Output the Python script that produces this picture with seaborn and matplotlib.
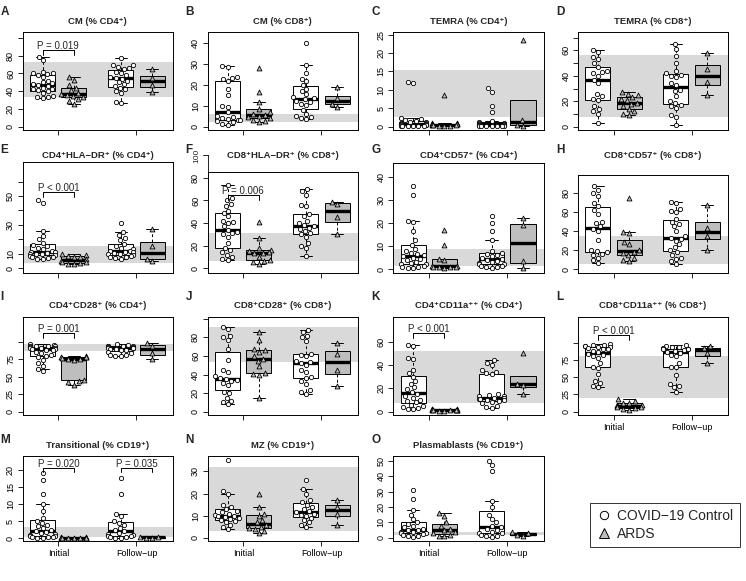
import warnings
import pandas as pd
import matplotlib.pyplot as plt
from matplotlib.lines import Line2D
import seaborn as sns

warnings.filterwarnings("ignore")

# ---- data ----
# ci = control initial, ai = ARDS initial, cf = control follow-up, af = ARDS follow-up
a_ci = [79, 75, 62, 61, 60, 59, 58, 56, 52, 50, 49, 48, 47, 46, 44, 43, 42, 41, 40, 38, 35, 34, 33, 32]
a_ai = [56, 53, 47, 44, 41, 38, 37, 36, 35, 33, 31, 29, 26]
a_cf = [77, 70, 69, 67, 66, 65, 62, 60, 58, 56, 55, 54, 52, 50, 48, 46, 44, 42, 40, 38, 28, 27]
a_af = [65, 55, 47, 39]
a_band = (33, 73)

b_ci = [29, 28.5, 24, 23.5, 23, 22, 18, 15, 10, 9.5, 7, 5, 4.5, 4, 3.5, 3, 3, 2.5, 2, 1.5, 1]
b_ai = [28, 16.5, 12, 8.5, 7, 6, 5.5, 5, 4.5, 4, 3, 2.5, 2]
b_cf = [40, 29.5, 25.5, 23, 22, 20, 18, 17, 15.5, 14, 13.5, 13, 12.5, 12, 11, 10.5, 8, 6, 5, 4.5, 4, 3.5]
b_af = [19, 13.5, 11, 9.5]
b_band = (2, 6)

c_ci = [12.2, 11.8, 2.3, 2, 1.8, 1.5, 1.3, 1.2, 1, 0.9, 0.8, 0.7, 0.6, 0.5, 0.5, 0.4, 0.3, 0.3, 0.2, 0.2, 0.1, 0.1]
c_ai = [8.5, 1, 0.9, 0.8, 0.7, 0.6, 0.5, 0.4, 0.4, 0.3, 0.3, 0.2]
c_cf = [10.5, 9.5, 5.5, 4, 1.5, 1.2, 1, 0.9, 0.8, 0.7, 0.6, 0.5, 0.5, 0.4, 0.3, 0.3, 0.2, 0.2, 0.1, 0.1, 0.1]
c_af = [23.5, 1.8, 0.5, 0.3]
c_band = (2.7, 15.3)

d_ci = [60, 59, 55, 53, 50, 47, 44, 43, 42, 40, 37, 34, 26, 24, 22, 21, 16, 14, 12, 10, 3]
d_ai = [27, 26, 25, 23, 22, 21, 19, 18, 16, 14, 12, 10, 9.5]
d_cf = [65, 61, 56, 50, 44, 42, 41, 40, 39, 34, 33, 29, 28, 24, 20, 19, 17, 16, 15, 9, 8, 1.5]
d_af = [58, 45, 35, 25]
d_band = (8, 56.5)

e_ci = [47, 45, 26, 22, 20, 17.5, 16, 15, 14, 13, 12, 11, 11, 10.5, 10, 10, 9.5, 9, 8.5, 8, 7.5, 7, 6.5, 6]
e_ai = [9.5, 9, 8.5, 8, 7.5, 6, 5, 4.5, 4, 3.5, 3, 2.5]
e_cf = [31, 25, 23, 21, 19.5, 17, 15, 14, 13, 12, 12, 11.5, 11, 10.5, 10, 9.5, 9, 8.5, 8, 7.5, 7, 6.5]
e_af = [27, 15, 6.5, 5]
e_band = (3.5, 15.5)

f_ci = [74, 62, 60, 57, 55, 51, 49, 46, 42, 41, 40, 37, 34, 32, 31, 30, 28, 22, 18, 16, 14, 12, 10, 8, 7]
f_ai = [41, 26.5, 18, 16, 15, 14, 13.5, 13, 10, 7, 6, 5, 4]
f_cf = [70, 68, 65, 56, 55, 48, 46, 42, 40, 38, 37, 36, 35, 33, 31, 30, 28, 22, 20, 18, 11]
f_af = [59, 57, 45, 30]
f_band = (6, 31)

g_ci = [36, 32, 21, 20.5, 16.5, 12.5, 10.5, 8.5, 8, 7, 6.5, 6, 5.5, 5, 4.5, 4, 3, 2.5, 2, 2, 1.5, 1, 1, 0.5, 0.5]
g_ai = [17, 10.5, 4.5, 4, 1.5, 1.2, 1, 1, 0.8, 0.8, 0.6]
g_cf = [23, 20, 16.5, 12.5, 8, 7, 6.5, 6, 5.5, 5, 4.5, 4, 3.5, 3, 2.5, 2, 2, 1.5, 1.5, 1, 1, 0.5]
g_af = [22, 19, 3.5, 0.5]
g_band = (1.2, 8.5)

h_ci = [87, 83, 80, 77, 70, 66, 62, 58, 50, 48, 45, 42, 40, 31, 20, 19, 18, 16, 15, 12, 9, 6]
h_ai = [75, 39, 38, 28, 26, 20, 18, 17, 15, 12, 9, 8]
h_cf = [71, 69, 63, 61, 60, 53, 50, 47, 45, 40, 35, 33, 32, 30, 26, 23, 20, 18, 15, 12, 11, 8, 5]
h_af = [67, 43, 35, 20]
h_band = (5.5, 34.5)

i_ci = [97, 96, 95, 95, 94, 94, 93, 92, 92, 91, 90, 90, 89, 88, 86, 84, 82, 80, 78, 74, 70, 66, 61, 58]
i_ai = [80, 79, 78, 78, 77, 76, 75, 74, 46, 44, 42, 39]
i_cf = [97, 96, 95, 95, 94, 94, 93, 93, 92, 92, 91, 91, 90, 90, 89, 88, 86, 84, 82, 81, 80, 80]
i_af = [98, 95, 84, 75]
i_band = (86.5, 97)

j_ci = [91, 89, 82, 80, 77, 67, 56, 45, 43, 38, 36, 35, 34, 33, 31, 29, 21, 20, 15, 12, 10, 8]
j_ai = [86, 77, 68, 66, 64, 60, 57, 55, 49, 42, 41, 40, 15]
j_cf = [88, 86, 82, 80, 76, 62, 61, 60, 55, 53, 52, 50, 45, 43, 37, 36, 33, 30, 23, 21, 19]
j_af = [74, 62, 45, 28]
j_band = (53, 91)

k_ci = [57, 56, 46, 45, 36, 33, 30, 26, 24, 21, 19, 17, 15, 13, 12, 10, 9, 8, 6, 5, 4, 3, 2.5, 2]
k_ai = [2.5, 2, 2, 1.8, 1.5, 1.5, 1.2, 1, 1, 0.8, 0.5]
k_cf = [44, 42, 40, 36, 34, 33, 32, 15, 14, 13, 13, 12, 12, 11, 11, 10, 10, 9, 8, 7, 5, 4, 3.5]
k_af = [50, 24, 23, 15]
k_band = (7, 52)

l_ci = [98, 97, 96, 95, 95, 94, 93, 92, 91, 90, 88, 86, 84, 82, 80, 78, 70, 65, 63, 55, 45, 42, 37, 35]
l_ai = [18, 15, 13, 12, 10, 9, 8, 7, 6, 5, 4, 3]
l_cf = [96, 95, 94, 93, 92, 91, 90, 90, 89, 88, 87, 85, 82, 80, 70, 65, 64, 53, 40, 37, 35, 28]
l_af = [95, 92, 85, 70]
l_band = (20, 80)

m_ci = [19, 17, 13, 10, 8, 6, 5, 4.5, 4, 3.5, 3, 2.5, 2, 1.8, 1.5, 1.2, 1, 0.8, 0.6, 0.5, 0.4, 0.3, 0.2, 0.1]
m_ai = [0.3, 0.25, 0.2, 0.2, 0.15, 0.1, 0.1, 0.05, 0.05, 0]
m_cf = [17.5, 13, 7, 6.5, 5, 4.5, 4, 3, 2.5, 2, 1.5, 1.2, 1, 0.8, 0.6, 0.4, 0.3, 0.2, 0.1]
m_af = [0.4, 0.3, 0.2, 0.1]
m_band = (0.5, 3.2)

n_ci = [35, 21, 20, 15, 14, 13, 12, 11.5, 11, 10.5, 10, 10, 9.5, 9, 8.5, 8, 7.5, 7, 6, 5, 4]
n_ai = [20, 14, 11, 10, 8, 7, 6, 5, 4.5, 4, 3, 2]
n_cf = [26, 22, 20, 17, 16, 15, 14, 13, 12, 11.5, 11, 10.5, 10, 9, 8, 7, 6, 5]
n_af = [17, 14, 11, 6]
n_band = (3, 32)

o_ci = [31, 25, 18, 15, 12, 10, 9, 8, 7, 6, 5, 5, 4, 4, 3.5, 3, 2.5, 2, 1.5, 1, 0.5]
o_ai = [16, 14, 10, 8, 6, 5, 4, 3, 2, 1.5, 1]
o_cf = [50, 47, 43, 24, 20, 15, 12, 10, 8, 7, 6, 5, 4, 3.5, 3, 2, 1.5, 1, 0.5]
o_af = [4, 3, 2, 1]
o_band = (2, 4)

x_labels = ["Initial", "Follow\u2212up"]
legend_labels = ["COVID\u221219 Control", "ARDS"]

# ---- layout (pixels) ----
W, H = 746, 581
COLS = [(22.7, 173), (207.7, 358), (393, 544), (578, 728)]
ROW_BOTTOM = [130, 273, 415, 541]
TITLE_Y = [22, 155, 306, 446]
LETTER_Y = [12, 150, 297, 440]

panels = [
    dict(letter="A", title="CM (% CD4\u207a)", data=(a_ci, a_ai, a_cf, a_af), band=a_band, top=32,
         ylim=(-3.8, 106.8), yticks=[0, 20, 40, 60, 80, 100], ylabels=["0", "20", "40", "60", "80", ""],
         pvals=[(1.5, 86, "P = 0.019")]),
    dict(letter="B", title="CM (% CD8\u207a)", data=(b_ci, b_ai, b_cf, b_af), band=b_band, top=32,
         ylim=(-1.6, 45.3), yticks=[0, 10, 20, 30, 40], ylabels=["0", "10", "20", "30", "40"], pvals=[]),
    dict(letter="C", title="TEMRA (% CD4\u207a)", data=(c_ci, c_ai, c_cf, c_af), band=c_band, top=32,
         ylim=(-0.9, 25.7), yticks=[0, 5, 10, 15, 20, 25], ylabels=["0", "5", "10", "15", "20", "25"], pvals=[]),
    dict(letter="D", title="TEMRA (% CD8\u207a)", data=(d_ci, d_ai, d_cf, d_af), band=d_band, top=32,
         ylim=(-2.6, 74.5), yticks=[0, 10, 20, 30, 40, 50, 60, 70], ylabels=["0", "", "20", "", "40", "", "60", ""],
         pvals=[]),
    dict(letter="E", title="CD4\u207aHLA\u2212DR\u207a (% CD4\u207a)", data=(e_ci, e_ai, e_cf, e_af), band=e_band,
         top=162, ylim=(-3.4, 73.6), yticks=[0, 10, 20, 30, 40, 50, 60],
         ylabels=["0", "10", "", "30", "", "50", ""], pvals=[(1.5, 53, "P < 0.001")]),
    dict(letter="F", title="CD8\u207aHLA\u2212DR\u207a (% CD8\u207a)", data=(f_ci, f_ai, f_cf, f_af), band=f_band,
         top=172, ylim=(-4.4, 85.3), yticks=[0, 20, 40, 60, 80], ylabels=["0", "20", "40", "60", "80"],
         extra_tick=(100, "100"), pvals=[(1.5, 65, "P = 0.006")]),
    dict(letter="G", title="CD4\u207aCD57\u207a (% CD4\u207a)", data=(g_ci, g_ai, g_cf, g_af), band=g_band, top=163,
         ylim=(-1.7, 46), yticks=[0, 10, 20, 30, 40], ylabels=["0", "10", "20", "30", "40"], pvals=[]),
    dict(letter="H", title="CD8\u207aCD57\u207a (% CD8\u207a)", data=(h_ci, h_ai, h_cf, h_af), band=h_band, top=175,
         ylim=(-4.2, 99), yticks=[0, 20, 40, 60, 80], ylabels=["0", "20", "40", "60", "80"], pvals=[]),
    dict(letter="I", title="CD4\u207aCD28\u207a (% CD4\u207a)", data=(i_ci, i_ai, i_cf, i_af), band=i_band, top=317,
         ylim=(-4.8, 136), yticks=[0, 25, 50, 75, 100], ylabels=["0", "25", "50", "75", ""],
         pvals=[(1.5, 113, "P = 0.001")]),
    dict(letter="J", title="CD8\u207aCD28\u207a (% CD8\u207a)", data=(j_ci, j_ai, j_cf, j_af), band=j_band, top=317,
         ylim=(-3.6, 102), yticks=[0, 20, 40, 60, 80, 100], ylabels=["0", "20", "40", "60", "80", ""], pvals=[]),
    dict(letter="K", title="CD4\u207aCD11a\u207a\u207a (% CD4\u207a)", data=(k_ci, k_ai, k_cf, k_af), band=k_band,
         top=317, ylim=(-2.9, 81), yticks=[0, 20, 40, 60], ylabels=["0", "20", "40", "60"],
         pvals=[(1.5, 67, "P < 0.001")]),
    dict(letter="L", title="CD8\u207aCD11a\u207a\u207a (% CD8\u207a)", data=(l_ci, l_ai, l_cf, l_af), band=l_band,
         top=317, ylim=(-4.9, 137), yticks=[0, 25, 50, 75, 100], ylabels=["0", "25", "50", "75", ""],
         pvals=[(1.5, 111, "P < 0.001")]),
    dict(letter="M", title="Transitional (% CD19\u207a)", data=(m_ci, m_ai, m_cf, m_af), band=m_band, top=456,
         ylim=(-0.8, 24), yticks=[0, 5, 10, 15, 20], ylabels=["0", "5", "10", "15", "20"],
         pvals=[(1.5, 20.5, "P = 0.020"), (4.0, 20.5, "P = 0.035")]),
    dict(letter="N", title="MZ (% CD19\u207a)", data=(n_ci, n_ai, n_cf, n_af), band=n_band, top=456,
         ylim=(-1.4, 37), yticks=[0, 10, 20, 30], ylabels=["0", "10", "20", "30"], pvals=[]),
    dict(letter="O", title="Plasmablasts (% CD19\u207a)", data=(o_ci, o_ai, o_cf, o_af), band=o_band, top=456,
         ylim=(-2, 53), yticks=[0, 10, 20, 30, 40, 50], ylabels=["0", "10", "20", "30", "40", "50"], pvals=[]),
]

sns.set_theme(style="ticks")
plt.rcParams["font.family"] = ["Liberation Sans", "DejaVu Sans"]

fig = plt.figure(figsize=(W / 100, H / 100), dpi=100)

GROUPS = [(1.0, "Control"), (2.0, "ARDS"), (3.5, "Control"), (4.5, "ARDS")]
TICK_PT = 3.5


def draw_panel(ax, spec, show_xlabels, width_px):
    rows = []
    for (pos, grp), vals in zip(GROUPS, spec["data"]):
        rows += [(pos, v, grp) for v in vals]
    df = pd.DataFrame(rows, columns=["pos", "value", "group"])

    lo, hi = spec["band"]
    ax.axhspan(lo, hi, color="#d9d9d9", lw=0, zorder=0)
    sns.boxplot(data=df, x="pos", y="value", hue="group", native_scale=True, dodge=False,
                palette={"Control": "white", "ARDS": "#bebebe"}, saturation=1, width=0.8,
                linecolor="black", linewidth=0.7, showfliers=False,
                medianprops={"linewidth": 2.4}, whiskerprops={"linestyle": (0, (3, 2.5))},
                legend=False, ax=ax)
    # one swarm per box so the spread stays inside the box width
    for pos, grp in GROUPS:
        sub = df[df["pos"] == pos]
        if grp == "Control":
            sns.swarmplot(data=sub, x="pos", y="value", native_scale=True, marker="o", size=3.1,
                          color="white", edgecolor="black", linewidth=0.6, ax=ax, zorder=4)
        else:
            sns.swarmplot(data=sub, x="pos", y="value", native_scale=True, marker="^", size=3.5,
                          color="#bebebe", edgecolor="black", linewidth=0.6, ax=ax, zorder=4)

    ymin, ymax = spec["ylim"]
    for xc, yb, txt in spec["pvals"]:
        d = (ymax - ymin) * 0.05
        ax.plot([xc - 0.5, xc - 0.5, xc + 0.5, xc + 0.5], [yb - d, yb, yb, yb - d],
                color="black", lw=0.7, zorder=5)
        ax.text(xc, yb - (ymax - ymin) * 0.01, txt, ha="center", va="bottom", fontsize=7, zorder=5)

    ax.set_xlim(0.36, 5.17)
    ax.set_ylim(ymin, ymax)
    ax.set_xticks([1.5, 4.0])
    ax.set_xticklabels(x_labels if show_xlabels else ["", ""], fontsize=6.5)
    ax.set_yticks(spec["yticks"])
    ax.set_yticklabels(spec["ylabels"], rotation=90, va="center", fontsize=6.5)
    ax.tick_params(length=TICK_PT, width=0.6, pad=2, colors="black")
    ax.set_xlabel("")
    ax.set_ylabel("")
    for s in ax.spines.values():
        s.set_visible(True)
        s.set_linewidth(0.7)
        s.set_color("black")

    # axis of this panel runs above the plot box up to its last tick
    if "extra_tick" in spec:
        yv, lab = spec["extra_tick"]
        tr = ax.get_yaxis_transform()
        tick_frac = TICK_PT * 100 / 72 / width_px
        ax.plot([0, 0], [ymax, yv], color="black", lw=0.6, transform=tr, clip_on=False)
        ax.plot([0, -tick_frac], [yv, yv], color="black", lw=0.6, transform=tr, clip_on=False)
        ax.text(-tick_frac - 2.5 / width_px, yv, lab, transform=tr, rotation=90, ha="right",
                va="center", fontsize=6, clip_on=False)


for i, spec in enumerate(panels):
    r, c = divmod(i, 4)
    left, right = COLS[c]
    top, bottom = spec["top"], ROW_BOTTOM[r]
    ax = fig.add_axes([left / W, 1 - bottom / H, (right - left) / W, (bottom - top) / H])
    show_x = (r == 3) or (r == 2 and c == 3)
    draw_panel(ax, spec, show_x, right - left)
    fig.text((left + right) / 2 / W, 1 - TITLE_Y[r] / H, spec["title"], ha="center", va="center",
             fontsize=6.8, fontweight="bold")
    fig.text((left - 22) / W, 1 - LETTER_Y[r] / H, spec["letter"], ha="left", va="center",
             fontsize=8.5, fontweight="bold")

# legend in the empty bottom-right slot
handles = [
    Line2D([], [], ls="none", marker="o", markersize=6, markerfacecolor="white",
           markeredgecolor="black", markeredgewidth=0.7),
    Line2D([], [], ls="none", marker="^", markersize=7, markerfacecolor="#bebebe",
           markeredgecolor="black", markeredgewidth=0.7),
]
leg = fig.legend(handles, legend_labels, loc="center", bbox_to_anchor=(665 / W, 1 - 525 / H),
                 fontsize=10, frameon=True, fancybox=False, edgecolor="black",
                 handletextpad=0.4, borderpad=0.45, labelspacing=0.25, handlelength=1.1)
leg.get_frame().set_linewidth(0.7)

fig.savefig("out.png", dpi=100)
